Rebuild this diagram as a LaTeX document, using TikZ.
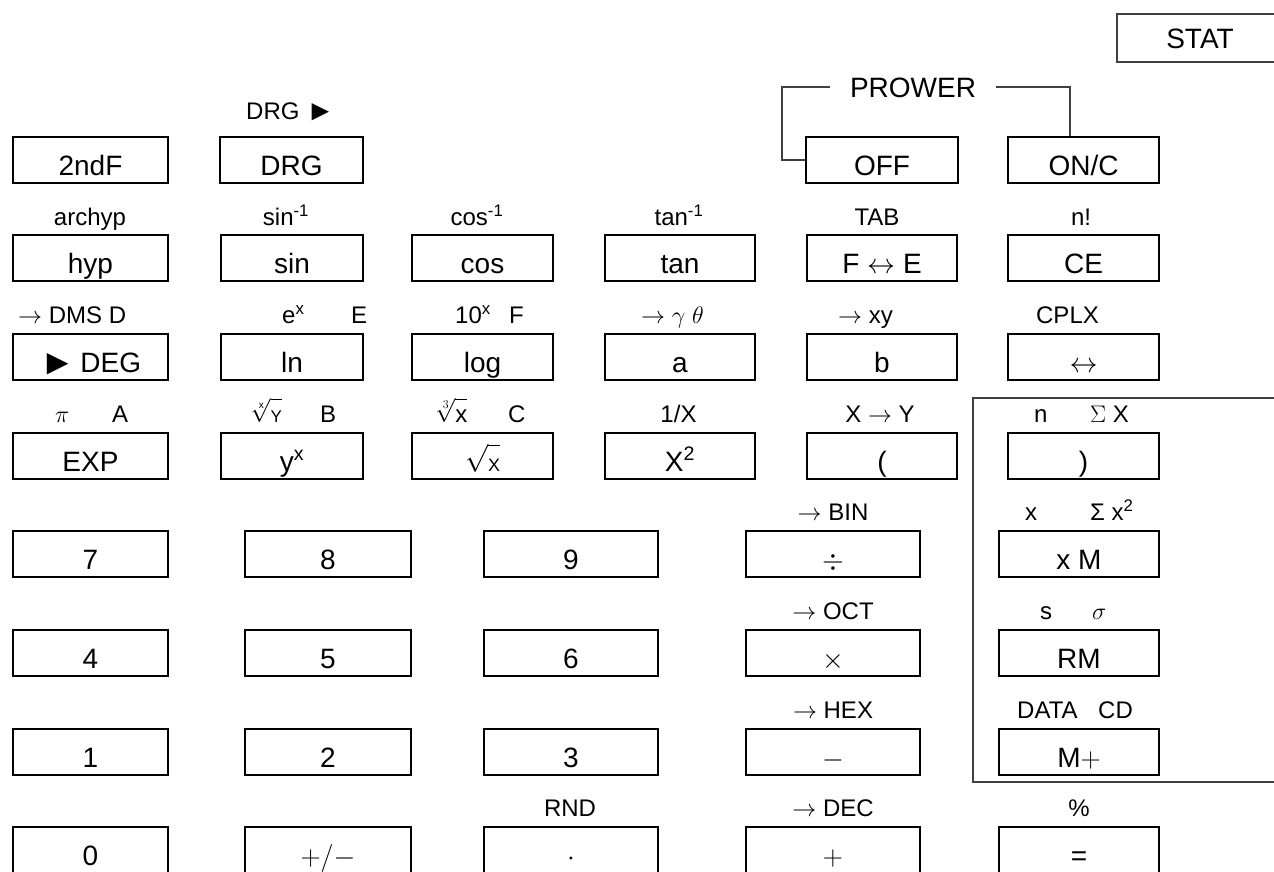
\RequirePackage{fix-cm}
\documentclass[tikz,border=0pt]{standalone}
\usepackage{amsmath}
\usepackage{fontspec}
\setmainfont{Liberation Sans}
\begin{document}
\begin{tikzpicture}[x=1pt,y=-1pt,
  key/.style={draw, line width=2pt, minimum height=46pt, inner sep=0pt, text height=32pt, text depth=2pt, font=\fontsize{28}{30}\selectfont},
  lab/.style={anchor=base, inner sep=0pt, font=\fontsize{24}{26}\selectfont},
  labw/.style={lab, anchor=base west},
  thinline/.style={draw=black!75, line width=1.2pt}]
\useasboundingbox (0,0) rectangle (1274,871);

% STAT
\node[anchor=base, inner sep=0pt, font=\fontsize{28}{30}\selectfont] (stat) at (1200,48) {STAT};
\draw[thinline] (1274,14) -| (1117,62) -- (1274,62);

% Row 1
\node[key,minimum width=155] (k2ndF) at (90.5,160) {2ndF};
\node[key,minimum width=143] (kDRG) at (291.5,160) {DRG};
\node[key,minimum width=152] (kOFF) at (882,160) {OFF};
\node[key,minimum width=151] (kONC) at (1083.5,160) {ON/C};
\node[labw] (lDRG) at (246,119) {DRG {\fontsize{29}{29}\selectfont\raisebox{-1pt}{►}}};
\node[inner xsep=20pt, inner ysep=0pt, text height=20pt, text depth=0pt, font=\fontsize{28}{30}\selectfont] (pw) at (913,87) {PROWER};
\draw[thinline] (kOFF.west) -- ++(-23,0) |- (pw.west);
\draw[thinline] (pw.east) -| ([xshift=-13.5pt]kONC.north);

% Row 2
\node[key,minimum width=155] (khyp) at (90.5,258) {hyp};
\node[key,minimum width=142] (ksin) at (292,258) {sin};
\node[key,minimum width=141] (kcos) at (482.5,258) {cos};
\node[key,minimum width=150] (ktan) at (680,258) {tan};
\node[key,minimum width=150] (kfe) at (882,258) {F $\leftrightarrow$ E};
\node[key,minimum width=151] (kce) at (1083.5,258) {CE};
\node[lab] (larchyp) at (90,225) {archyp};
\node[lab] (lasin) at (286,225) {sin\textsuperscript{-1}};
\node[lab] (lacos) at (477,225) {cos\textsuperscript{-1}};
\node[lab] (latan) at (679,225) {tan\textsuperscript{-1}};
\node[lab] (ltab) at (877,225) {TAB};
\node[lab] (lfact) at (1081,225) {n!};

% Row 3
\node[key,minimum width=155] (kdeg) at (90.5,357) {{\fontsize{36}{36}\selectfont\raisebox{-2pt}{►}}\hspace{5pt}DEG};
\node[key,minimum width=142] (kln) at (292,357) {ln};
\node[key,minimum width=141] (klog) at (482.5,357) {log};
\node[key,minimum width=150] (ka) at (680,357) {a};
\node[key,minimum width=150] (kb) at (882,357) {b};
\node[key,minimum width=151] (kcplx) at (1083.5,357) {$\leftrightarrow$};
\node[labw] (ldms) at (18,323) {$\rightarrow$ DMS D};
\node[labw] (lex) at (282,323) {\makebox[69pt][l]{e\textsuperscript{x}}E};
\node[labw] (l10x) at (455,323) {\makebox[54pt][l]{10\textsuperscript{x}}F};
\node[labw] (lpol) at (641,323) {$\rightarrow\gamma\ \theta$};
\node[labw] (lrec) at (838,323) {$\rightarrow$ xy};
\node[lab] (lcplx) at (1067.5,323) {CPLX};

% Row 4
\node[key,minimum width=155] (kexp) at (90.5,456) {EXP};
\node[key,minimum width=142] (kyx) at (292,456) {y\textsuperscript{x}};
\node[key,minimum width=141] (ksqrt) at (482.5,456) {$\sqrt{\rule{0pt}{22pt}\mbox{\fontsize{18}{18}\selectfont X}}$};
\node[key,minimum width=150] (ksq) at (680,456) {X\textsuperscript{2}};
\node[key,minimum width=150] (klp) at (882,456) {(};
\node[key,minimum width=151] (krp) at (1083.5,456) {)};
\node[labw] (lpi) at (55,422) {\makebox[57pt][l]{$\pi$}A};
\node[labw] (lxroot) at (252,422) {\makebox[68pt][l]{$\sqrt[\mbox{\fontsize{10}{10}\selectfont x}]{\rule{0pt}{20pt}\mbox{\fontsize{17}{17}\selectfont Y}}$}B};
\node[labw] (lcroot) at (436,422) {\makebox[72pt][l]{$\sqrt[3]{\rule{0pt}{20pt}\mbox{x}}$}C};
\node[lab] (linv) at (678.5,422) {1/X};
\node[lab] (lxy) at (880,422) {X $\rightarrow$ Y};
\node[labw] (lnsx) at (1034,422) {\makebox[56pt][l]{n}$\Sigma$ X};

% STAT frame
\draw[thinline] (1274,398) -- (973,398) -- (973,782) -- (1274,782);

% Row 5
\node[key,minimum width=155] (k7) at (90.5,554) {7};
\node[key,minimum width=166] (k8) at (328,554) {8};
\node[key,minimum width=174] (k9) at (571,554) {9};
\node[key,minimum width=174] (kdiv) at (833,554) {$\div$};
\node[key,minimum width=160] (kxm) at (1079,554) {x M};
\node[lab] (lbin) at (833,520) {$\rightarrow$ BIN};
\node[labw] (lsx2) at (1025,520) {\makebox[65pt][l]{x}Σ x\textsuperscript{2}};

% Row 6
\node[key,minimum width=155] (k4) at (90.5,653) {4};
\node[key,minimum width=166] (k5) at (328,653) {5};
\node[key,minimum width=174] (k6) at (571,653) {6};
\node[key,minimum width=174] (kmul) at (833,653) {$\times$};
\node[key,minimum width=160] (krm) at (1079,653) {RM};
\node[lab] (loct) at (833,619) {$\rightarrow$ OCT};
\node[labw] (lss) at (1040,619) {\makebox[52pt][l]{s}$\sigma$};

% Row 7
\node[key,minimum width=155] (k1) at (90.5,752) {1};
\node[key,minimum width=166] (k2) at (328,752) {2};
\node[key,minimum width=174] (k3) at (571,752) {3};
\node[key,minimum width=174] (ksub) at (833,752) {$-$};
\node[key,minimum width=160] (kmp) at (1079,752) {M$+$};
\node[lab] (lhex) at (833,718) {$\rightarrow$ HEX};
\node[labw] (ldata) at (1017,718) {\makebox[81pt][l]{DATA}CD};

% Row 8
\node[key,minimum width=155] (k0) at (90.5,850) {0};
\node[key,minimum width=166] (kpm) at (328,850) {$+/-$};
\node[key,minimum width=174] (kdot) at (571,850) {$\cdot$};
\node[key,minimum width=174] (kadd) at (833,850) {$+$};
\node[key,minimum width=160] (keq) at (1079,850) {=};
\node[lab] (lrnd) at (570,816) {RND};
\node[lab] (ldec) at (833,816) {$\rightarrow$ DEC};
\node[lab] (lpct) at (1079,816) {\%};
\end{tikzpicture}
\end{document}
